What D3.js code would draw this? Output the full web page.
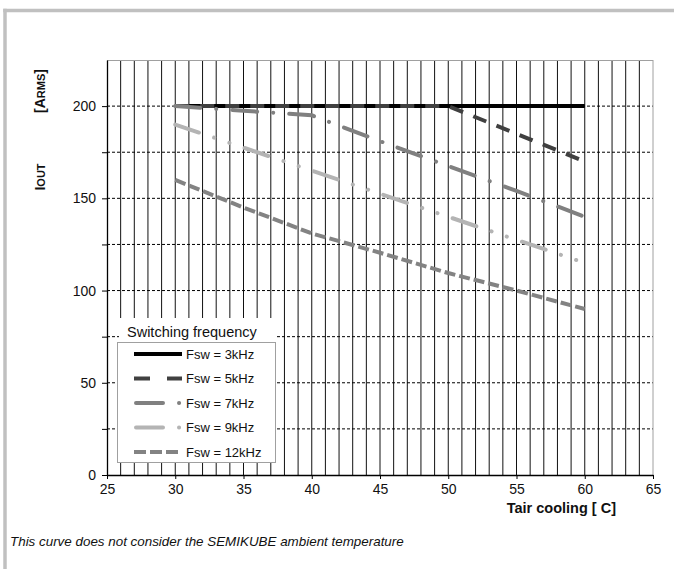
<!DOCTYPE html>
<html>
<head>
<meta charset="utf-8">
<script src="https://cdn.jsdelivr.net/npm/d3@7"></script>
<style>
  html, body { margin: 0; background: #fff; overflow: hidden; width: 674px; height: 569px; }
  svg { display: block; font-family: "Liberation Sans", Arial, sans-serif; }
</style>
</head>
<body>
<div id="chart"></div>
<script>
// temperatures (Tair cooling, C) where the curves are read
const temps = [30, 35, 40, 45, 50, 55, 60];
// output current IOUT [ARMS] per switching frequency
const f3kHz  = [200, 200, 200, 200, 200, 200, 200];
const f5kHz  = [200, 200, 200, 200, 200, 185, 170];
const f7kHz  = [200, 197.5, 195, 181, 167.5, 154, 140];
const f9kHz  = [190, 177.5, 165, 152.5, 140, 127.5, 115];
const f12kHz = [160, 145, 131, 120.5, 109.5, 100, 90];
const seriesNames = ["Fsw = 3kHz", "Fsw = 5kHz", "Fsw = 7kHz", "Fsw = 9kHz", "Fsw = 12kHz"];
const xTicks = [25, 30, 35, 40, 45, 50, 55, 60, 65];
const yTicks = [0, 50, 100, 150, 200];

const W = 674, H = 569;
const margin = {top: 60, right: 21, bottom: 94, left: 107};
const width = W - margin.left - margin.right;   // 546
const height = H - margin.top - margin.bottom;  // 415

// line styles, same order as seriesNames (round caps make the dots of the dash-dot lines)
const styles = [
    {color: "#000000", dash: null, cap: "butt", legend: null},
    {color: "#404040", dash: "14,11", cap: "butt", legend: "16,17"},
    {color: "#808080", dash: "25,16,0.1,16", cap: "round", legend: "27,16,0.1,20"},
    {color: "#b4b4b4", dash: "25,16,0.1,16,0.1,16", cap: "round", legend: "27,16,0.1,20"},
    {color: "#838383", dash: "11,4", cap: "butt", legend: "12,4"}
];
const allSeries = [f3kHz, f5kHz, f7kHz, f9kHz, f12kHz];

const svgRoot = d3.select("#chart").append("svg")
    .attr("width", W).attr("height", H);

// light grey frame round the figure (only left and top are in view)
svgRoot.append("line").attr("x1", 5).attr("x2", 5).attr("y1", 8.75).attr("y2", H)
    .attr("stroke", "#c0c0c0").attr("stroke-width", 3.5);
svgRoot.append("line").attr("x1", 3.25).attr("x2", W).attr("y1", 10.5).attr("y2", 10.5)
    .attr("stroke", "#c0c0c0").attr("stroke-width", 3.5);

const svg = svgRoot.append("g")
    .attr("transform", `translate(${margin.left},${margin.top})`);

const x = d3.scaleLinear().domain([25, 65]).range([0, width]);
const y = d3.scaleLinear().domain([0, 225]).range([height, 0]);

// vertical grid every 1 C
svg.append("g").selectAll("line")
    .data(d3.range(26, 65))
    .enter().append("line")
    .attr("x1", d => x(d)).attr("x2", d => x(d))
    .attr("y1", 0).attr("y2", height)
    .attr("stroke", "#111").attr("stroke-width", 1);

// horizontal dashed grid every 25 A
svg.append("g").selectAll("line")
    .data(d3.range(25, 225, 25))
    .enter().append("line")
    .attr("x1", 0).attr("x2", width)
    .attr("y1", d => y(d)).attr("y2", d => y(d))
    .attr("stroke", "#000").attr("stroke-width", 1)
    .attr("stroke-dasharray", "3,2");

// top and right plot edges in grey
svg.append("line").attr("x1", 0).attr("x2", width).attr("y1", 0.5).attr("y2", 0.5)
    .attr("stroke", "#a0a0a0").attr("stroke-width", 1);
svg.append("line").attr("x1", x(65)).attr("x2", x(65)).attr("y1", 0).attr("y2", height)
    .attr("stroke", "#a0a0a0").attr("stroke-width", 1);

// axes
const xAxis = svg.append("g")
    .attr("transform", `translate(0,${height})`)
    .call(d3.axisBottom(x).tickValues(xTicks).tickSize(4).tickSizeOuter(0).tickPadding(5));
const yAxis = svg.append("g")
    .call(d3.axisLeft(y).tickValues(d3.range(0, 225, 25)).tickSize(5).tickSizeOuter(0).tickPadding(6)
        .tickFormat(d => yTicks.includes(d) ? d : ""));
[xAxis, yAxis].forEach(a => {
    a.select(".domain").attr("stroke", "#000").attr("stroke-width", 1.3);
    a.selectAll(".tick line").attr("stroke", "#000");
    a.selectAll("text").attr("font-size", 14).attr("fill", "#111")
        .attr("font-family", "Liberation Sans, Arial, sans-serif");
});

// curves
const line = d3.line()
    .x((d, i) => x(temps[i]))
    .y(d => y(d));
allSeries.forEach((s, i) => {
    svg.append("path")
        .datum(s)
        .attr("d", line)
        .attr("fill", "none")
        .attr("stroke", styles[i].color)
        .attr("stroke-width", 4)
        .attr("stroke-linecap", styles[i].cap)
        .attr("stroke-dasharray", styles[i].dash);
});

// axis titles
svgRoot.append("text")
    .attr("x", 616).attr("y", 513)
    .attr("text-anchor", "end")
    .attr("font-size", 14.5).attr("font-weight", "bold").attr("fill", "#111")
    .text("Tair cooling [ C]");

const yt1 = svgRoot.append("text")
    .attr("transform", "translate(45,91) rotate(-90)")
    .attr("text-anchor", "middle")
    .attr("font-weight", "bold").attr("fill", "#111");
yt1.append("tspan").attr("font-size", 14).text("[A");
yt1.append("tspan").attr("font-size", 11).text("RMS");
yt1.append("tspan").attr("font-size", 14).text("]");

const yt2 = svgRoot.append("text")
    .attr("transform", "translate(45,177) rotate(-90)")
    .attr("text-anchor", "middle")
    .attr("font-weight", "bold").attr("fill", "#111");
yt2.append("tspan").attr("font-size", 14).text("I");
yt2.append("tspan").attr("font-size", 11).text("OUT");

// legend
const lg = svgRoot.append("g");
lg.append("rect")
    .attr("x", 119).attr("y", 318).attr("width", 156).attr("height", 24)
    .attr("fill", "#fff");
lg.append("text")
    .attr("x", 127).attr("y", 332)
    .attr("dominant-baseline", "central")
    .attr("font-size", 14.5).attr("fill", "#111")
    .text("Switching frequency");
lg.append("rect")
    .attr("x", 117.5).attr("y", 342.5).attr("width", 158).attr("height", 120)
    .attr("fill", "#fff").attr("stroke", "#a0a0a0").attr("stroke-width", 1);
const rowY = d3.scalePoint().domain(seriesNames).range([354, 452]);
seriesNames.forEach((name, i) => {
    const yy = rowY(name);
    const round = styles[i].cap === "round";
    lg.append("line")
        .attr("x1", round ? 136 : 134).attr("x2", 182).attr("y1", yy).attr("y2", yy)
        .attr("stroke", styles[i].color).attr("stroke-width", 4)
        .attr("stroke-linecap", styles[i].cap)
        .attr("stroke-dasharray", styles[i].legend);
    lg.append("text")
        .attr("x", 186).attr("y", yy)
        .attr("dominant-baseline", "central")
        .attr("font-size", 13).attr("fill", "#111")
        .text(name);
});

// footnote
svgRoot.append("text")
    .attr("x", 10).attr("y", 546)
    .attr("font-size", 13.4).attr("font-style", "italic").attr("fill", "#111")
    .text("This curve does not consider the SEMIKUBE ambient temperature");
</script>
</body>
</html>
